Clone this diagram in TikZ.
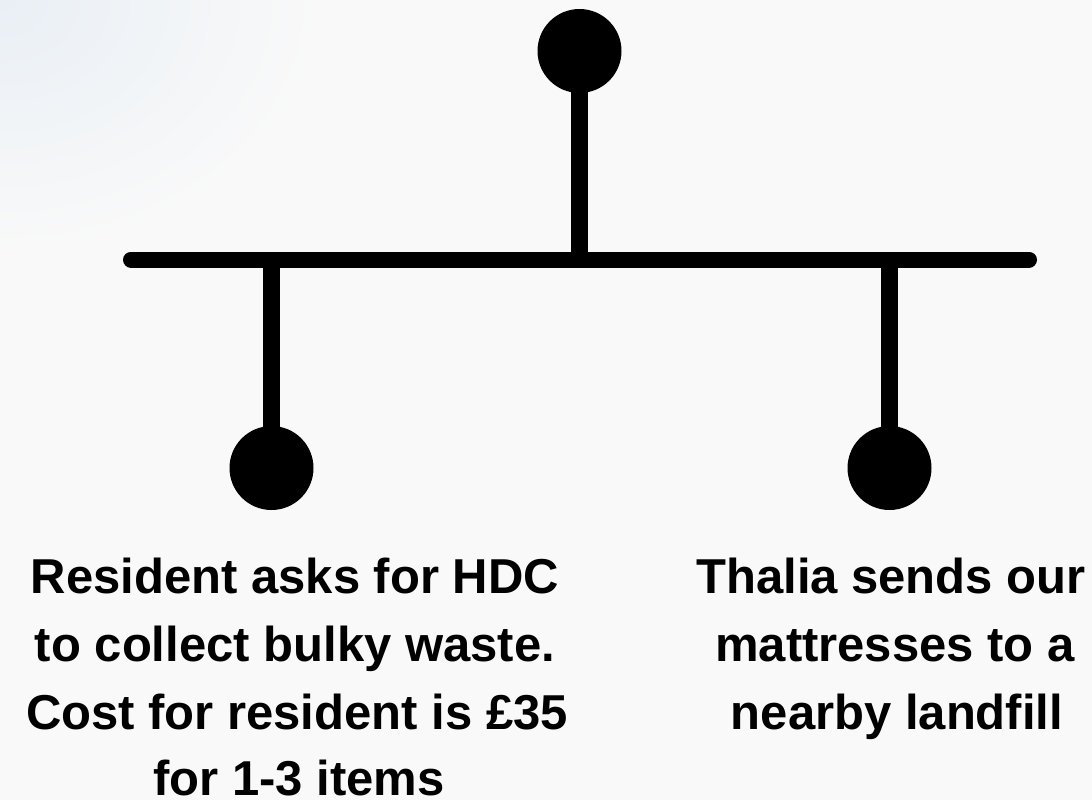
\documentclass[tikz,border=0pt]{standalone}
\usepackage{fontspec}
\setmainfont{Liberation Sans}
\definecolor{bg}{RGB}{249,249,249}
\definecolor{glow}{RGB}{233,239,245}
\tikzset{
  dot/.style={circle, fill=black, minimum size=84pt, inner sep=0pt},
  barline/.style={line width=16pt, line cap=round},
  stemline/.style={line width=17pt, line cap=butt},
  txt/.style={font=\fontsize{49}{68}\selectfont\bfseries, anchor=base, inner sep=0pt, text=black}
}
\begin{document}
\begin{tikzpicture}[x=1pt,y=-1pt]
\useasboundingbox (0,0) rectangle (1092,800);
\fill[bg] (0,0) rectangle (1092,800);
\begin{scope}
  \clip (0,0) rectangle (1092,800);
  \shade[inner color=glow, outer color=bg] (0,0) ellipse [x radius=320pt, y radius=250pt];
\end{scope}

\coordinate (barL) at (131,259.5);
\coordinate (barR) at (1029,259.5);
\node[dot] (top) at (579.5,51) {};
\node[dot] (lc) at (271.5,468) {};
\node[dot] (rc) at (889.5,468) {};

\draw[barline] (barL) -- (barR);
\draw[stemline] (top.center) -- (top.center |- barL);
\draw[stemline] (lc.center) -- (lc.center |- barL);
\draw[stemline] (rc.center) -- (rc.center |- barL);

\node[txt] (l1) at (295,593) {Resident asks for HDC};
\node[txt] (l2) at (295,661) {to collect bulky waste.};
\node[txt] (l3) at (297,729) {Cost for resident is £35};
\node[txt] (l4) at (299,795) {for 1-3 items};

\node[txt] (r1) at (891,593) {Thalia sends our};
\node[txt] (r2) at (895,661) {mattresses to a};
\node[txt] (r3) at (897,729) {nearby landfill};
\end{tikzpicture}
\end{document}
